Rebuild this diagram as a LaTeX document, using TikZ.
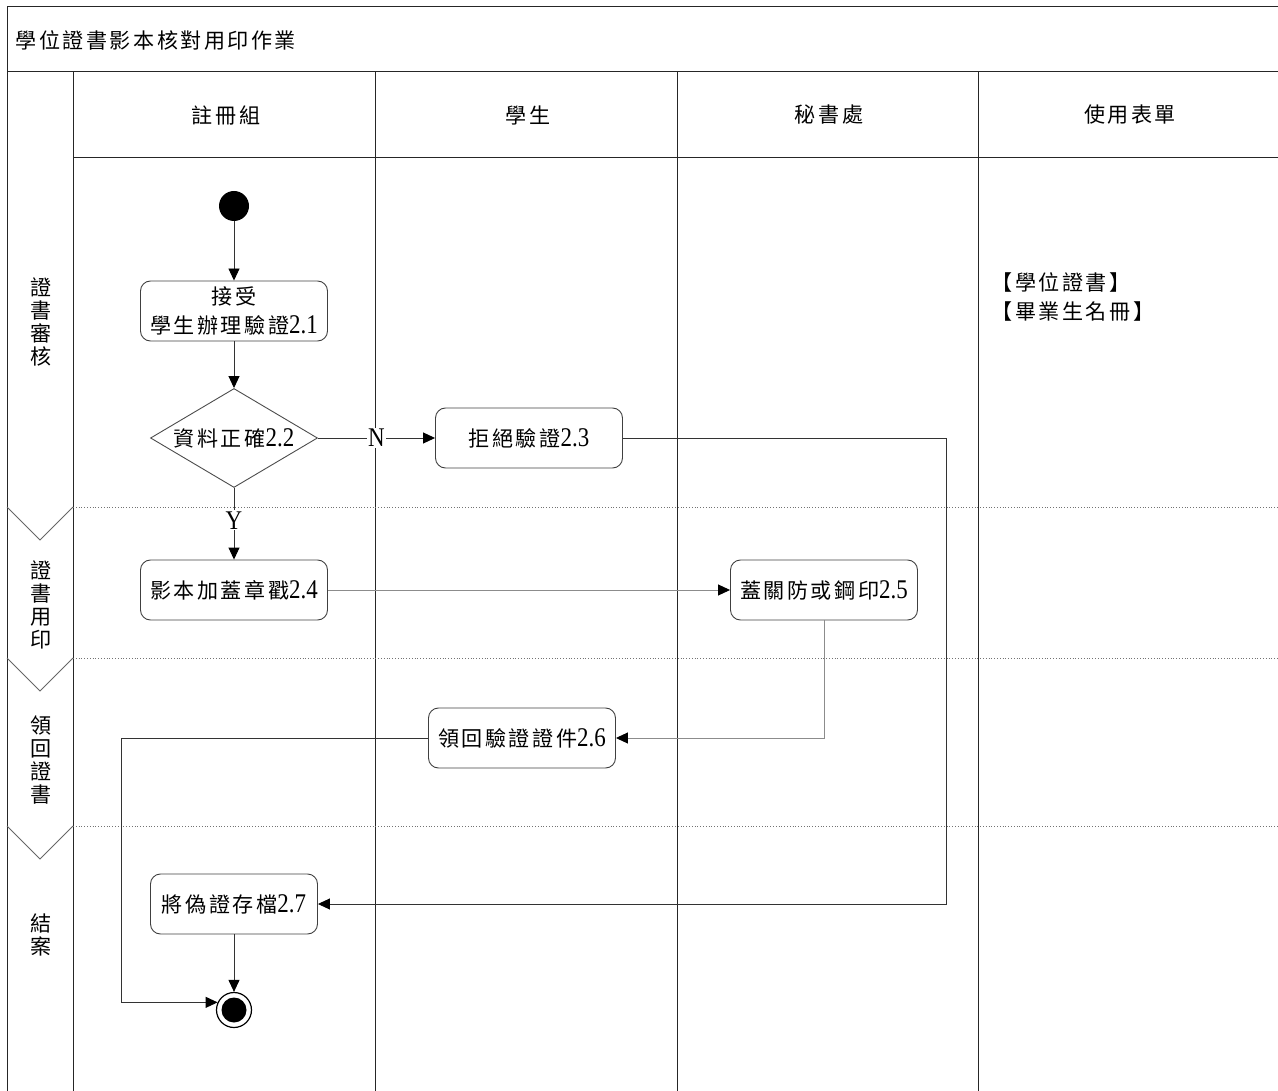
\documentclass[tikz,border=0pt]{standalone}
\usepackage{fontspec}
\setmainfont[FakeStretch=0.85]{Liberation Serif}
\newfontfamily\cjkfont[Scale=0.78,LetterSpace=12]{Noto Sans CJK TC}
\usetikzlibrary{shapes.geometric,arrows.meta}
\newcommand\zh[1]{{\cjkfont #1}}
\begin{document}
\begin{tikzpicture}[x=1pt,y=-1pt,
  every node/.style={font=\fontsize{27}{29}\selectfont},
  frame/.style={draw=black!85,line width=1pt},
  sep/.style={draw=black!55,line width=0.8pt,dotted},
  chev/.style={draw=black!60,line width=0.8pt},
  act/.style={draw=black!75,line width=0.9pt,rounded corners=10pt,minimum width=187pt,minimum height=60pt,inner sep=2pt,align=center},
  dec/.style={draw=black!70,line width=0.9pt,diamond,aspect=1.69,minimum width=167pt,minimum height=99pt,inner sep=0pt},
  flow/.style={draw=black!80,line width=0.9pt,-{Triangle[length=12pt,width=11pt,color=black]}},
  lflow/.style={draw=black!45,line width=0.9pt,-{Triangle[length=12pt,width=11pt,color=black]}},
  lbl/.style={fill=white,inner sep=1pt}]
\useasboundingbox (0,0) rectangle (1278,1091);
% frame
\draw[frame] (7,1091) -- (7,7) -- (1278,7);
\draw[frame] (7,72) -- (1278,72);
\draw[frame] (73,72) -- (73,1091);
\draw[frame] (375,72) -- (375,1091);
\draw[frame] (677,72) -- (677,1091);
\draw[frame] (978,72) -- (978,1091);
\draw[frame] (73,158) -- (1278,158);
% phase separators
\draw[sep] (73,507) -- (1278,507);
\draw[sep] (73,658) -- (1278,658);
\draw[sep] (73,826) -- (1278,826);
\draw[chev] (7,507) -- (40,540) -- (73,507);
\draw[chev] (7,658) -- (40,691) -- (73,658);
\draw[chev] (7,826) -- (40,859) -- (73,826);
% title and headers
\node[anchor=west] (title) at (12,40) {\zh{學位證書影本核對用印作業}};
\node (h1) at (226,115) {\zh{註冊組}};
\node (h2) at (528,115) {\zh{學生}};
\node (h3) at (829,115) {\zh{秘書處}};
\node (h4) at (1130,115) {\zh{使用表單}};
% phase labels
\node[align=center,font=\fontsize{27}{23}\selectfont] (p1) at (41,322) {\zh{證}\\\zh{書}\\\zh{審}\\\zh{核}};
\node[align=center,font=\fontsize{27}{23}\selectfont] (p2) at (41,605) {\zh{證}\\\zh{書}\\\zh{用}\\\zh{印}};
\node[align=center,font=\fontsize{27}{23}\selectfont] (p3) at (41,760) {\zh{領}\\\zh{回}\\\zh{證}\\\zh{書}};
\node[align=center,font=\fontsize{27}{23}\selectfont] (p4) at (41,935) {\zh{結}\\\zh{案}};
% forms
\node[anchor=west,align=left] (forms) at (988,297) {\zh{【學位證書】}\\\zh{【畢業生名冊】}};
% flow nodes
\node[circle,fill=black,minimum size=30pt,inner sep=0pt] (start) at (234,206) {};
\node[act] (a21) at (234,311) {\zh{接受}\\\zh{學生辦理驗證}2.1};
\node[dec] (d22) at (234,438) {\zh{資料正確}2.2};
\node[act] (a23) at (529,438) {\zh{拒絕驗證}2.3};
\node[act] (a24) at (234,590) {\zh{影本加蓋章戳}2.4};
\node[act] (a25) at (824,590) {\zh{蓋關防或鋼印}2.5};
\node[act] (a26) at (522,738) {\zh{領回驗證證件}2.6};
\node[act,minimum width=167pt] (a27) at (234,904) {\zh{將偽證存檔}2.7};
\node[circle,draw=black,line width=1.2pt,minimum size=35pt,inner sep=0pt] (endc) at (234,1010) {};
\node[circle,fill=black,minimum size=25pt,inner sep=0pt] (endi) at (234,1010) {};
\coordinate (r1) at (946,438);
\coordinate (r2) at (824,738);
\coordinate (l1) at (121,738);
% connectors
\draw[flow] (start) -- (a21);
\draw[flow] (a21) -- (d22);
\draw[flow] (d22.east) -- (a23.west) node[lbl,pos=0.5] (nlab) {N};
\draw[flow] (d22.south) -- (a24.north) node[lbl,pos=0.45] (ylab) {Y};
\draw[lflow] (a24) -- (a25);
\draw[lflow] (a25.south) -- (r2) -- (a26.east);
\draw[flow] (a23.east) -- (r1) |- (a27.east);
\draw[flow] (a26.west) -- (l1) |- (endc.155);
\draw[flow] (a27) -- (endc);
\end{tikzpicture}
\end{document}
